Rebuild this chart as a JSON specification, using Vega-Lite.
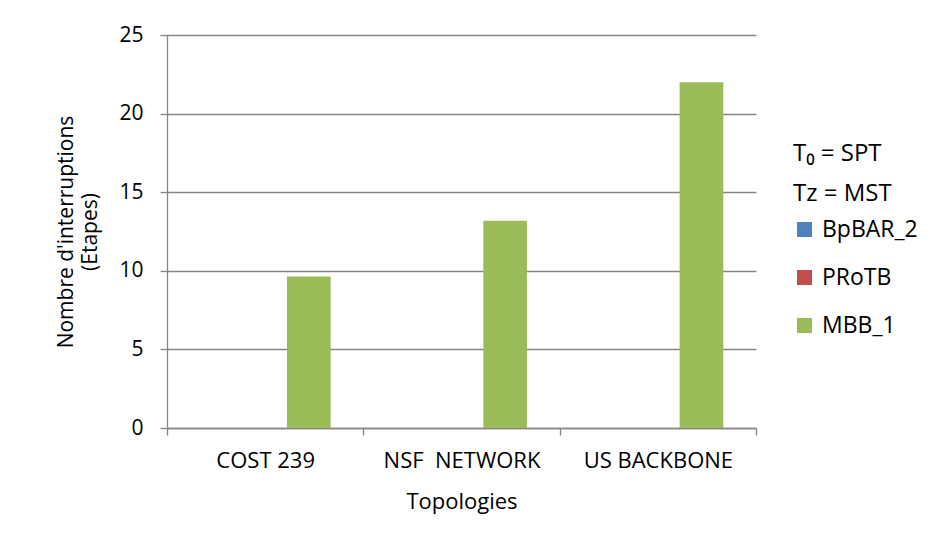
{
  "$schema": "https://vega.github.io/schema/vega-lite/v6.json",
  "width": 589,
  "height": 393,
  "autosize": {"type": "none"},
  "padding": {"left": 167, "top": 35, "right": 180, "bottom": 120},
  "background": "white",
  "config": {
    "font": "Open Sans",
    "view": {"stroke": null},
    "axis": {"labelFont": "Open Sans", "titleFont": "Open Sans", "labelColor": "#000", "titleColor": "#000", "titleFontWeight": "normal", "domainColor": "#868686", "tickColor": "#868686", "gridColor": "#868686", "domainWidth": 1.3, "tickWidth": 1.3, "gridWidth": 1.3},
    "legend": {"labelFont": "Open Sans", "titleFont": "Open Sans"}
  },
  "data": {
    "values": [
      {"topo": "COST 239", "serie": "BpBAR_2", "v": 0},
      {"topo": "COST 239", "serie": "PRoTB", "v": 0},
      {"topo": "COST 239", "serie": "MBB_1", "v": 9.64},
      {"topo": "NSF\u00a0 NETWORK", "serie": "BpBAR_2", "v": 0},
      {"topo": "NSF\u00a0 NETWORK", "serie": "PRoTB", "v": 0},
      {"topo": "NSF\u00a0 NETWORK", "serie": "MBB_1", "v": 13.18},
      {"topo": "US BACKBONE", "serie": "BpBAR_2", "v": 0},
      {"topo": "US BACKBONE", "serie": "PRoTB", "v": 0},
      {"topo": "US BACKBONE", "serie": "MBB_1", "v": 22.0}
    ]
  },
  "mark": {"type": "bar"},
  "encoding": {
    "x": {
      "field": "topo", "type": "nominal", "sort": null,
      "scale": {"paddingInner": 0, "paddingOuter": 0},
      "axis": {"title": "Topologies", "labelAngle": 0, "labelFontSize": 22, "titleFontSize": 22, "tickBand": "extent", "tickSize": 7, "labelPadding": 15, "titlePadding": 20, "grid": false}
    },
    "xOffset": {
      "field": "serie", "type": "nominal", "sort": ["BpBAR_2", "PRoTB", "MBB_1"],
      "scale": {"paddingInner": 0, "paddingOuter": 0.75}
    },
    "y": {
      "field": "v", "type": "quantitative",
      "scale": {"domain": [0, 25]},
      "axis": {"title": ["Nombre d'interruptions", "(Etapes)"], "values": [0, 5, 10, 15, 20, 25], "labelFontSize": 21, "titleFontSize": 21, "tickSize": 7, "labelPadding": 17, "titlePadding": 18, "titleLineHeight": 24, "grid": true}
    },
    "color": {
      "field": "serie", "type": "nominal",
      "scale": {"domain": ["BpBAR_2", "PRoTB", "MBB_1"], "range": ["#4F81BD", "#C0504D", "#9BBB59"]},
      "legend": {"orient": "none", "legendX": 626, "legendY": 107, "title": ["T₀ = SPT", "Tz = MST"], "titleFontSize": 24, "titleFontWeight": "normal", "titleColor": "#000", "titleLineHeight": 40, "titlePadding": 12, "labelFontSize": 23, "labelColor": "#000", "symbolType": "square", "symbolSize": 225, "symbolStrokeWidth": 0, "rowPadding": 24, "labelOffset": 6, "titleAlign": "left", "titleOrient": "top", "padding": 0}
    }
  }
}
